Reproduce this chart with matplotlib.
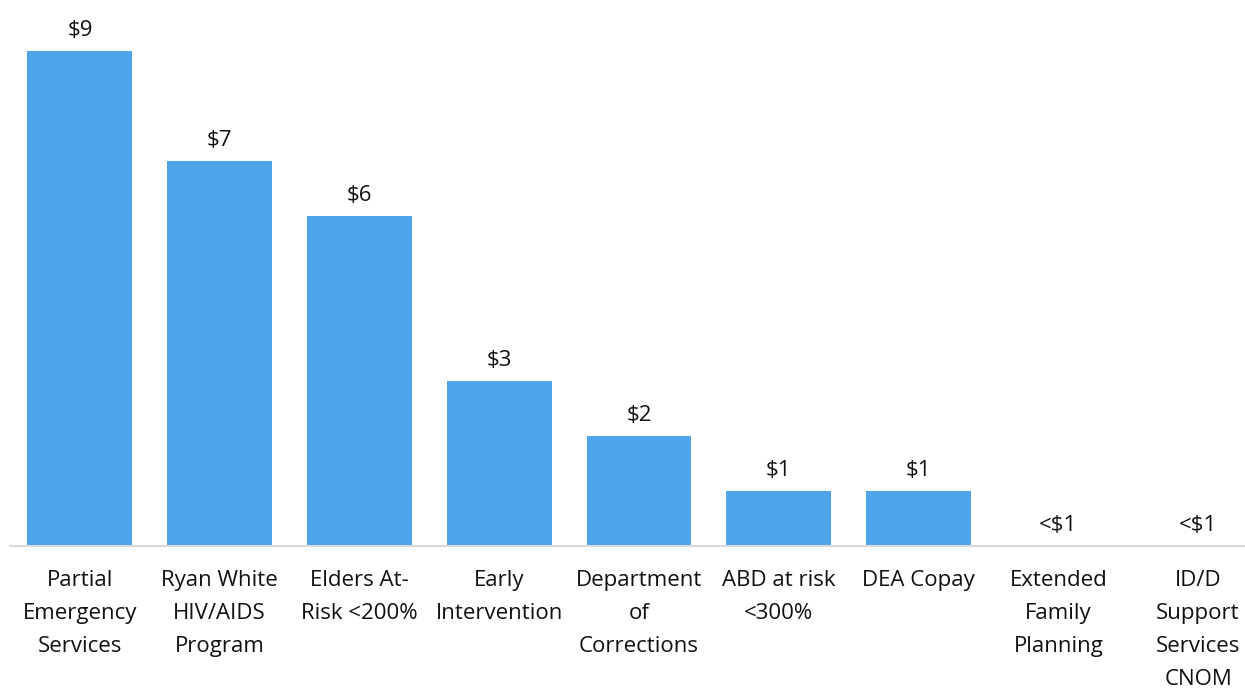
import matplotlib
matplotlib.use("Agg")
import matplotlib.pyplot as plt

categories = ["Partial\nEmergency\nServices", "Ryan White\nHIV/AIDS\nProgram", "Elders At-\nRisk <200%",
              "Early\nIntervention", "Department\nof\nCorrections", "ABD at risk\n<300%", "DEA Copay",
              "Extended\nFamily\nPlanning", "ID/D\nSupport\nServices\nCNOM"]
values = [9, 7, 6, 3, 2, 1, 1, 0, 0]
labels = ["$9", "$7", "$6", "$3", "$2", "$1", "$1", "<$1", "<$1"]

plt.rcParams['font.family'] = ['Open Sans', 'DejaVu Sans']
W, H = 1245, 688
fig = plt.figure(figsize=(W/100, H/100), dpi=100)
left = 10
right = 1268
base = 546
unit = 55
ymax = 9.6
ax = fig.add_axes([left/W, (H-base)/H, (right-left)/W, ymax*unit/H])
x = list(range(len(values)))
ax.bar(x, values, width=0.75, color="#4EA5EC")
ax.set_xlim(-0.5, len(values)-0.5)
ax.set_ylim(0, ymax)
for i, (v, l) in enumerate(zip(values, labels)):
    ax.annotate(l, (i, v), xytext=(0, 7), textcoords="offset points", ha="center", va="bottom",
                fontsize=16, color="#111111")
for s in ["top", "left", "right"]:
    ax.spines[s].set_visible(False)
ax.spines["bottom"].set_color("#D9D9D9")
ax.spines["bottom"].set_linewidth(1.5)
ax.set_yticks([])
ax.set_xticks(x)
ax.set_xticklabels(categories, fontsize=16, color="#111111", linespacing=1.76)
ax.tick_params(axis="x", length=0, pad=17)
fig.savefig("out.png", dpi=100)
